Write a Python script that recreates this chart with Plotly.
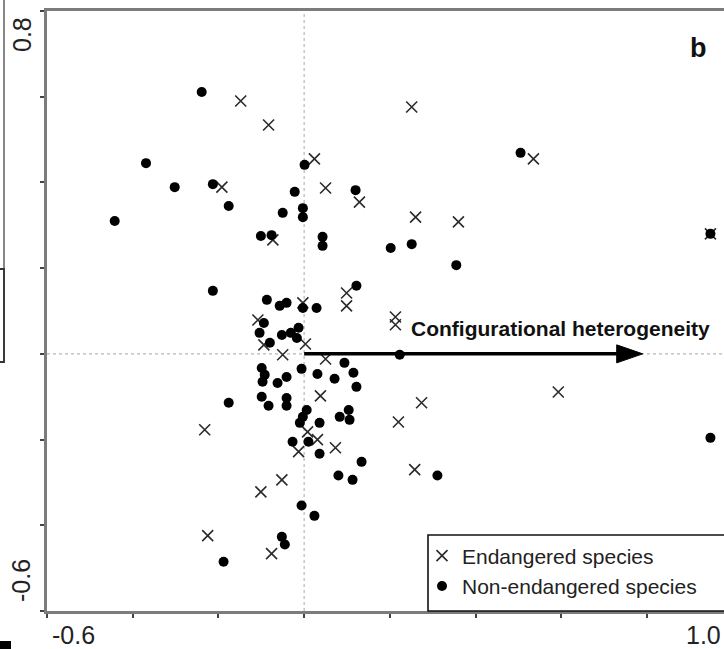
import plotly.graph_objects as go

# ---------------- data ----------------
endangered_x = [-0.148, -0.083, -0.192, -0.073, 0.024, 0.050, 0.129, 0.251, 0.535, 0.260,
                0.360, 0.948, 0.099, 0.099, -0.003, -0.108, 0.213, 0.213, -0.094, 0.003,
                -0.050, 0.050, 0.038, 0.274, 0.220, -0.232, 0.008, 0.031, -0.013, 0.073,
                0.258, -0.052, -0.101, -0.225, -0.076, 0.593]
endangered_y = [0.590, 0.534, 0.389, 0.266, 0.455, 0.387, 0.354, 0.576, 0.455, 0.319,
                0.308, 0.280, 0.142, 0.112, 0.119, 0.079, 0.086, 0.068, 0.021, 0.023,
                -0.002, -0.012, -0.098, -0.114, -0.159, -0.177, -0.182, -0.200, -0.228, -0.219,
                -0.270, -0.294, -0.322, -0.424, -0.466, -0.089]

non_endangered_x = [-0.239, -0.369, -0.302, -0.213, -0.176, -0.442, -0.101, -0.076, -0.213, -0.087,
                    0.001, -0.022, -0.050, -0.003, -0.003, 0.043, 0.043, 0.120, 0.202, 0.251,
                    0.355, 0.505, 0.948, 0.122, -0.057, -0.041, -0.003, 0.029, -0.094, -0.104,
                    -0.052, -0.031, -0.013, -0.017, -0.080, 0.223, -0.099, -0.092, -0.097, -0.062,
                    -0.041, -0.006, 0.031, 0.071, 0.094, 0.115, 0.122, -0.099, -0.083, -0.041,
                    -0.041, -0.176, 0.006, -0.003, -0.010, 0.036, 0.083, 0.104, 0.106, -0.027,
                    0.010, 0.036, 0.134, 0.311, 0.080, 0.113, -0.006, 0.024, -0.052, -0.045,
                    -0.188, 0.948]
non_endangered_y = [0.611, 0.445, 0.389, 0.396, 0.345, 0.310, 0.275, 0.277, 0.147, 0.126,
                    0.441, 0.378, 0.329, 0.340, 0.319, 0.273, 0.252, 0.382, 0.247, 0.256,
                    0.207, 0.469, 0.280, 0.159, 0.112, 0.119, 0.107, 0.107, 0.072, 0.049,
                    0.044, 0.049, 0.061, 0.037, 0.026, -0.002, -0.033, -0.049, -0.065, -0.068,
                    -0.054, -0.035, -0.047, -0.058, -0.021, -0.044, -0.077, -0.100, -0.121, -0.103,
                    -0.121, -0.114, -0.131, -0.147, -0.161, -0.161, -0.147, -0.131, -0.154, -0.205,
                    -0.205, -0.233, -0.252, -0.284, -0.284, -0.294, -0.354, -0.378, -0.427, -0.445,
                    -0.485, -0.196]

# environmental vector (biplot arrow)
arrow_name = "Configurational heterogeneity"
arrow_end_x = 0.79
arrow_end_y = 0.0

panel_label = "b"
x_axis_min, x_axis_max = -0.6, 1.0
y_axis_min, y_axis_max = -0.6, 0.8
tick_step = 0.2
x_end_labels = ["-0.6", "1.0"]
y_end_labels = ["-0.6", "0.8"]

# ---------------- layout geometry ----------------
W, H = 724, 649
ML, MT, MB, MR = 47, 11, 38, 0
plot_w = W - ML - MR
plot_h = H - MT - MB
px_per_unit = plot_h / (y_axis_max - y_axis_min)
x_view_max = x_axis_min + plot_w / px_per_unit   # plot is cropped on the right

FONT = "Arial, 'Liberation Sans', Helvetica, sans-serif"
AX_GRAY = "#7c7c7c"
TXT = "#222222"

fig = go.Figure()

fig.add_trace(go.Scatter(
    x=endangered_x, y=endangered_y, mode="markers", name="Endangered species",
    marker=dict(symbol="x-thin", size=11, line=dict(width=1.6, color="#2a2a2a"), color="#2a2a2a"),
))
fig.add_trace(go.Scatter(
    x=non_endangered_x, y=non_endangered_y, mode="markers", name="Non-endangered species",
    marker=dict(symbol="circle", size=10, color="black", line=dict(width=0)),
))

axis_common = dict(
    showgrid=False, zeroline=False, showline=True, linecolor=AX_GRAY, linewidth=2.5,
    ticks="outside", ticklen=4, tickwidth=1.5, tickcolor="#444444",
    showticklabels=False, dtick=tick_step,
)
fig.update_xaxes(range=[x_axis_min, x_view_max], tick0=x_axis_min, mirror=True, **axis_common)
fig.update_yaxes(range=[y_axis_min, y_axis_max], tick0=y_axis_min, **axis_common)

shapes = []
# dotted zero lines
shapes.append(dict(type="line", xref="x", yref="paper", x0=0, x1=0, y0=0, y1=1,
                   line=dict(color="#b8b8b8", width=1.2, dash="dot"), layer="below"))
shapes.append(dict(type="line", xref="paper", yref="y", x0=0, x1=1, y0=0, y1=0,
                   line=dict(color="#b8b8b8", width=1.2, dash="dot"), layer="below"))
# arrow shaft + head
head_len = 26 / px_per_unit
head_half = 9 / px_per_unit
shapes.append(dict(type="line", xref="x", yref="y", x0=0, y0=0,
                   x1=arrow_end_x - head_len * 0.8, y1=arrow_end_y,
                   line=dict(color="black", width=3.5), layer="above"))
shapes.append(dict(type="path", xref="x", yref="y",
                   path=(f"M {arrow_end_x - head_len},{arrow_end_y - head_half} "
                         f"L {arrow_end_x},{arrow_end_y} "
                         f"L {arrow_end_x - head_len},{arrow_end_y + head_half} Z"),
                   fillcolor="black", line=dict(color="black", width=1), layer="above"))
# legend box
shapes.append(dict(type="rect", xref="paper", yref="paper",
                   x0=(428 - ML) / plot_w, x1=1.02, y0=0, y1=(611 - 535) / plot_h,
                   fillcolor="white", line=dict(color="#111111", width=1.6), layer="above"))
# fragments of the neighbouring panel on the left edge
shapes.append(dict(type="line", xref="paper", yref="paper",
                   x0=(4 - ML) / plot_w, x1=(4 - ML) / plot_w, y0=(611 - 362) / plot_h, y1=(611 + 11) / plot_h,
                   line=dict(color="#888888", width=2)))
shapes.append(dict(type="rect", xref="paper", yref="paper",
                   x0=(-4 - ML) / plot_w, x1=(4 - ML) / plot_w, y0=(611 - 362) / plot_h, y1=(611 - 269) / plot_h,
                   line=dict(color="#333333", width=1.8)))
shapes.append(dict(type="rect", xref="paper", yref="paper",
                   x0=(0 - ML) / plot_w, x1=(11 - ML) / plot_w, y0=(611 - 649) / plot_h, y1=(611 - 641) / plot_h,
                   fillcolor="black", line=dict(width=0)))

annotations = [
    dict(text=x_end_labels[0], xref="x", yref="paper", x=x_axis_min, y=0,
         xanchor="left", yanchor="middle", xshift=3, yshift=-24, showarrow=False,
         font=dict(family=FONT, size=25, color=TXT)),
    # the 1.0 tick lies just past the cropped right edge; keep its label inside the picture
    dict(text=x_end_labels[1], xref="paper", yref="paper", x=1.0, y=0,
         xanchor="right", yanchor="middle", xshift=-1, yshift=-24, showarrow=False,
         font=dict(family=FONT, size=25, color=TXT)),
    dict(text=y_end_labels[0], xref="paper", yref="y", x=0, y=y_axis_min,
         xanchor="center", yanchor="middle", xshift=-26, yshift=30, textangle=-90, showarrow=False,
         font=dict(family=FONT, size=25, color=TXT)),
    dict(text=y_end_labels[1], xref="paper", yref="y", x=0, y=y_axis_max,
         xanchor="center", yanchor="middle", xshift=-25, yshift=-24, textangle=-90, showarrow=False,
         font=dict(family=FONT, size=25, color=TXT)),
    dict(text=f"<b>{arrow_name}</b>", xref="x", yref="y", x=arrow_end_x * 0.31, y=arrow_end_y,
         xanchor="left", yanchor="middle", yshift=25, showarrow=False,
         font=dict(family=FONT, size=21, color="#111111")),
    dict(text=f"<b>{panel_label}</b>", xref="paper", yref="paper", x=0.963, y=0.938,
         xanchor="center", yanchor="middle", showarrow=False,
         font=dict(family=FONT, size=27, color="#111111")),
]

fig.update_layout(
    width=W, height=H,
    margin=dict(l=ML, r=MR, t=MT, b=MB, pad=0),
    paper_bgcolor="white", plot_bgcolor="white",
    shapes=shapes, annotations=annotations,
    showlegend=True,
    legend=dict(x=(422 - ML) / plot_w, y=(611 - 571) / plot_h, xanchor="left", yanchor="middle",
                bgcolor="rgba(0,0,0,0)", borderwidth=0,
                font=dict(family=FONT, size=21, color=TXT), itemwidth=30,
                tracegroupgap=0),
)

fig.write_html("out.html")
